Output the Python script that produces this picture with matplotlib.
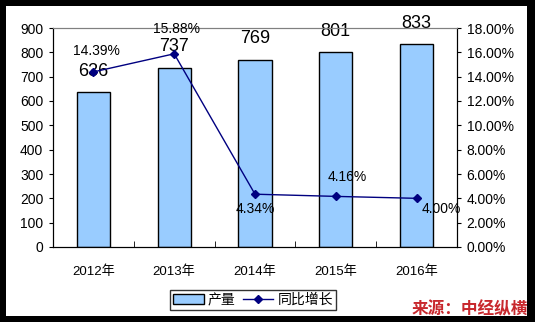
import matplotlib.pyplot as plt
from matplotlib.patches import Rectangle
from matplotlib.ticker import FuncFormatter

years = ['2012年', '2013年', '2014年', '2015年', '2016年']
output = [636, 737, 769, 801, 833]
growth = [14.39, 15.88, 4.34, 4.16, 4.00]
growth_labels = ['14.39%', '15.88%', '4.34%', '4.16%', '4.00%']

plt.rcParams['font.family'] = ['Liberation Sans', 'Noto Sans CJK SC', 'DejaVu Sans']

fig = plt.figure(figsize=(5.35, 3.22), dpi=100)
fig.patch.set_facecolor('black')
fig.patches.append(Rectangle((6 / 535, 6 / 322), 521 / 535, 310 / 322,
                             transform=fig.transFigure, facecolor='white',
                             edgecolor='none', zorder=-1))

ax = fig.add_axes([53 / 535, 75 / 322, 404 / 535, 219 / 322])
x = list(range(len(years)))
bars = ax.bar(x, output, width=0.41, color='#99CCFF', edgecolor='black',
              linewidth=1, label='产量', zorder=2)
ax.set_xlim(-0.5, 4.5)
ax.set_ylim(0, 900)
ax.set_yticks(range(0, 901, 100))
ax.tick_params(axis='y', direction='out', length=3, pad=4, labelsize=10)
ax.set_xticks(x)
ax.set_xticklabels(years, fontsize=9.5)
ax.tick_params(axis='x', which='major', length=0, pad=13)
ax.set_xticks([0.5, 1.5, 2.5, 3.5], minor=True)
ax.tick_params(axis='x', which='minor', direction='in', length=4)
ax.spines['top'].set_color('#808080')
ax.spines['right'].set_color('black')
for i, v in enumerate(output):
    ax.annotate(str(v), (i, v), xytext=(0, 9), textcoords='offset points',
                ha='center', va='bottom', fontsize=13, zorder=5)

ax2 = ax.twinx()
line, = ax2.plot(x, growth, color='#000080', marker='D', markersize=4,
                 linewidth=1, label='同比增长', zorder=3)
ax2.set_ylim(0, 18)
ax2.set_yticks(range(0, 19, 2))
ax2.yaxis.set_major_formatter(FuncFormatter(lambda v, p: '%.2f%%' % v))
ax2.tick_params(axis='y', direction='out', length=3, pad=4, labelsize=10)
ax2.spines['top'].set_color('#808080')

offsets = [(2, 15), (2, 18), (0, -11), (8, 14), (18, -8)]
for i, (v, lab) in enumerate(zip(growth, growth_labels)):
    ax2.annotate(lab, (i, v), xytext=offsets[i], textcoords='offset points',
                 ha='center', va='center', fontsize=10)

leg = fig.legend([bars, line], ['产量', '同比增长'], loc='center',
                 bbox_to_anchor=(253 / 535, 22 / 322), ncol=2, fontsize=10,
                 frameon=True, fancybox=False, edgecolor='black',
                 handlelength=2.2, handletextpad=0.3, columnspacing=0.5,
                 borderpad=0.2)
leg.get_frame().set_linewidth(1)

fig.text(470 / 535, 13 / 322, '来源：中经纵横', color='#C8282D', fontsize=12,
         fontweight='bold', ha='center', va='center',
         family=['Noto Sans CJK SC'])

fig.savefig('out.png', dpi=100, facecolor=fig.get_facecolor())
